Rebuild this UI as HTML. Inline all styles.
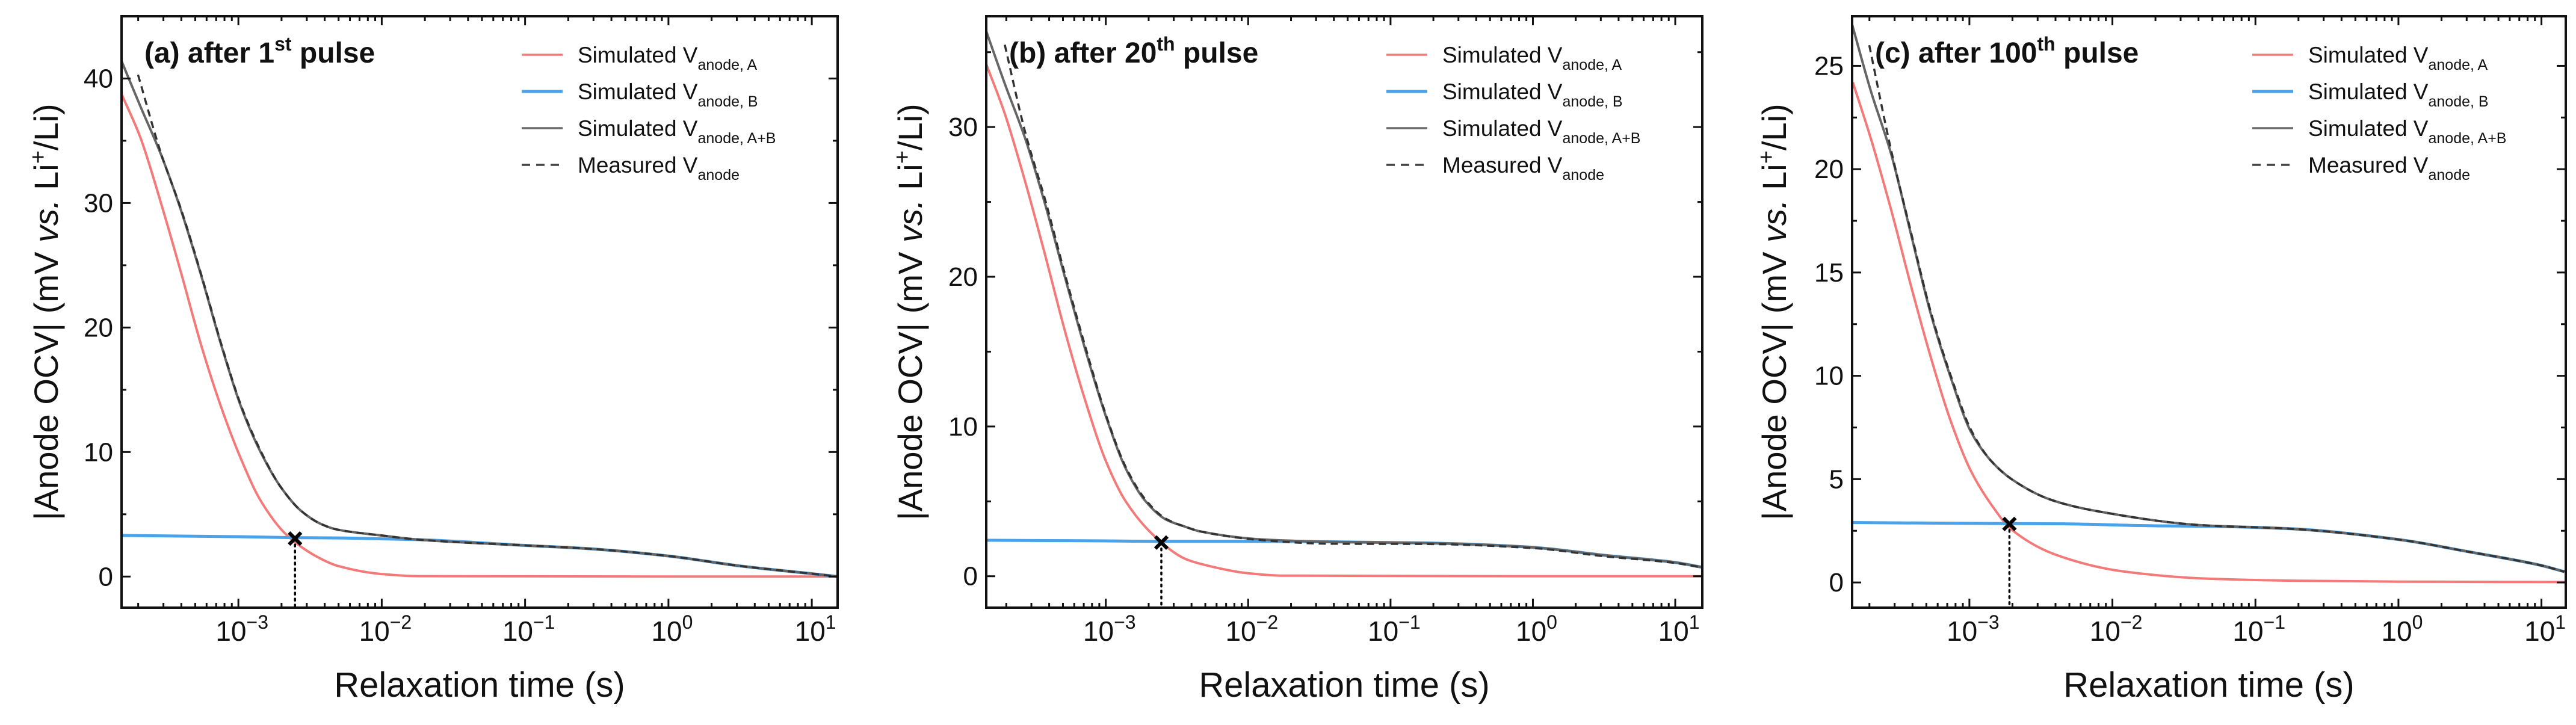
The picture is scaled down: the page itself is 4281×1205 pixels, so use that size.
<!DOCTYPE html>
<html><head><meta charset="utf-8">
<style>
html,body{margin:0;padding:0;background:#fff;}
svg{display:block;font-family:"Liberation Sans",Arial,sans-serif;}
</style></head>
<body>
<svg id="fig" width="4281" height="1205" viewBox="0 0 4281 1205" xmlns="http://www.w3.org/2000/svg"></svg>
<script>
// ---- Panel (a) data: log10(time s), value mV ----
const aRedX = [-3.815,-3.685,-3.54,-3.40,-3.26,-3.12,-2.98,-2.845,-2.66,-2.42,-2.31,-2.0,-1.74,0,1.18];
const aRedY = [38.75,35.3,30.0,24.4,18.6,13.6,9.4,6.1,3.3,1.4,0.87,0.2,0.03,0,0];
const aBlkX = [-3.815,-3.685,-3.54,-3.40,-3.26,-3.12,-2.98,-2.845,-2.705,-2.565,-2.42,-2.31,-2.0,-1.74,-1.0,-0.57,0,0.5,1.0,1.18];
const aBlkY = [41.4,37.8,33.9,29.4,24.2,18.6,13.6,10.0,7.2,5.3,4.2,3.77,3.3,2.96,2.5,2.25,1.65,0.85,0.23,0];
const aBluX = [-3.815,-3.0,-2.6,-2.31,-2.0,-1.74,-1.0,-0.57,0,0.5,1.0,1.18];
const aBluY = [3.3,3.2,3.12,3.1,3.03,2.96,2.5,2.25,1.65,0.85,0.23,0];
const aMeaX = [-3.70,-3.54,-3.40,-3.26,-3.12,-2.98,-2.845,-2.705,-2.565,-2.42,-2.31,-2.0,-1.74,-1.0,-0.57,0,0.5,1.0,1.18];
const aMeaY = [40.3,34.0,29.5,24.3,18.7,13.7,10.1,7.2,5.3,4.2,3.77,3.3,2.96,2.5,2.25,1.65,0.85,0.23,0];
const aMark = [-2.605,3.05];
// ---- Panel (b) ----
const bRedX = [-3.84,-3.71,-3.565,-3.425,-3.285,-3.14,-3.0,-2.86,-2.65,-2.44,-2.34,-2.0,-1.77,0,1.19];
const bRedY = [34.2,30.9,26.3,21.4,16.3,11.6,7.7,5.0,2.6,1.15,0.84,0.2,0.04,0,0];
const bBlkX = [-3.84,-3.71,-3.565,-3.425,-3.285,-3.14,-3.0,-2.86,-2.72,-2.58,-2.44,-2.34,-1.89,-1.43,-0.75,0,0.5,1.0,1.19];
const bBlkY = [36.4,32.9,29.2,24.8,19.9,15.0,10.7,7.2,5.0,3.8,3.3,3.0,2.45,2.3,2.22,1.93,1.4,0.92,0.6];
const bBluX = [-3.84,-3.0,-2.61,-2.34,-1.89,-1.43,-0.75,0,0.5,1.0,1.19];
const bBluY = [2.4,2.36,2.33,2.33,2.33,2.3,2.22,1.93,1.4,0.92,0.6];
const bMeaX = [-3.71,-3.565,-3.425,-3.285,-3.14,-3.0,-2.86,-2.72,-2.58,-2.44,-2.34,-1.89,-1.43,-0.75,0,0.5,1.0,1.19];
const bMeaY = [35.5,29.6,25.1,20.1,15.2,10.8,7.3,5.1,3.85,3.3,3.0,2.4,2.17,2.15,1.88,1.33,0.88,0.58];
const bMark = [-2.61,2.25];
// ---- Panel (c) ----
const cRedX = [-3.815,-3.69,-3.55,-3.41,-3.27,-3.125,-2.99,-2.85,-2.705,-2.38,-1.92,-1.35,-0.78,0,1.17];
const cRedY = [24.2,21.5,18.1,14.4,10.9,7.7,5.4,3.8,2.56,1.3,0.53,0.19,0.09,0.04,0.02];
const cBlkX = [-3.82,-3.69,-3.55,-3.41,-3.27,-3.125,-2.99,-2.85,-2.705,-2.43,-2.1,-1.35,-0.78,0,0.48,1.0,1.16];
const cBlkY = [27.0,23.8,20.8,16.9,13.0,9.8,7.3,5.9,5.0,4.0,3.44,2.76,2.61,2.08,1.5,0.82,0.52];
const cBluX = [-3.82,-2.72,-2.38,-1.69,-1.35,-0.78,0,0.48,1.0,1.16];
const cBluY = [2.9,2.85,2.84,2.74,2.72,2.61,2.08,1.5,0.82,0.52];
const cMeaX = [-3.70,-3.55,-3.41,-3.27,-3.125,-2.99,-2.85,-2.705,-2.43,-2.1,-1.35,-0.78,0,0.48,1.0,1.16];
const cMeaY = [26.0,21.0,17.0,13.1,9.9,7.4,5.9,5.0,4.0,3.44,2.76,2.61,2.08,1.5,0.82,0.52];
const cMark = [-2.72,2.83];
// ---- ticks ----
const aYTicks = [0,10,20,30,40];
const bYTicks = [0,10,20,30];
const cYTicks = [0,5,10,15,20,25];
const xDecades = [-3,-2,-1,0,1];

const NS="http://www.w3.org/2000/svg";
const svg=document.getElementById('fig');
function mk(tag,attrs,parent){const e=document.createElementNS(NS,tag);for(const k in attrs)e.setAttribute(k,attrs[k]);(parent||svg).appendChild(e);return e;}

function smoothPath(p){
  const n=p.length,d=[],m=[];
  for(let i=0;i<n-1;i++)d.push((p[i+1][1]-p[i][1])/(p[i+1][0]-p[i][0]));
  m[0]=d[0];m[n-1]=d[n-2];
  for(let i=1;i<n-1;i++){
    if(d[i-1]*d[i]<=0)m[i]=0;
    else{const h0=p[i][0]-p[i-1][0],h1=p[i+1][0]-p[i][0];
      const w1=2*h1+h0,w2=h1+2*h0;m[i]=(w1+w2)/(w1/d[i-1]+w2/d[i]);}
  }
  let s='M'+p[0][0].toFixed(1)+','+p[0][1].toFixed(1);
  for(let i=0;i<n-1;i++){
    const h=(p[i+1][0]-p[i][0])/3;
    s+=' C'+(p[i][0]+h).toFixed(1)+','+(p[i][1]+m[i]*h).toFixed(1)+' '+(p[i+1][0]-h).toFixed(1)+','+(p[i+1][1]-m[i+1]*h).toFixed(1)+' '+p[i+1][0].toFixed(1)+','+p[i+1][1].toFixed(1);
  }
  return s;
}

function panel(cfg){
  const g=mk('g',{});
  
  
  const L=cfg.left,R=cfg.right,T=27,B=1010;
  const xs=v=>L+(v-cfg.xmin)/(cfg.xmax-cfg.xmin)*(R-L);
  const ys=v=>B-(v-cfg.ymin)/(cfg.ymax-cfg.ymin)*(B-T);
  const clip='clip-'+cfg.name;
  const cp=mk('clipPath',{id:clip},g);mk('rect',{x:L,y:T,width:R-L,height:B-T},cp);
  const plot=mk('g',{'clip-path':'url(#'+clip+')'},g);
  function line(X,Y,attrs,name){
    const p=mk('path',Object.assign({d:smoothPath(X.map((x,i)=>[xs(x),ys(Y[i])])),fill:'none'},attrs),plot);
    
    
  }
  line(cfg.red[0],cfg.red[1],{stroke:'#f47a7a','stroke-width':4},'series-sim-a');
  line(cfg.blu[0],cfg.blu[1],{stroke:'#4aa3ea','stroke-width':5},'series-sim-b');
  line(cfg.blk[0],cfg.blk[1],{stroke:'#666','stroke-width':4},'series-sim-ab');
  line(cfg.mea[0],cfg.mea[1],{stroke:'#333','stroke-width':3.5,'stroke-dasharray':'12,8'},'series-measured');
  const mx=xs(cfg.mark[0]),my=ys(cfg.mark[1]);
  const dl=mk('line',{x1:mx,y1:my,x2:mx,y2:B,stroke:'#000','stroke-width':3.5,'stroke-dasharray':'3,7','stroke-linecap':'round'},g);
  
  
  const xm=mk('path',{d:`M${mx-10},${my-10}L${mx+10},${my+10}M${mx-10},${my+10}L${mx+10},${my-10}`,stroke:'#000','stroke-width':6},g);
  
  
  const fr=mk('rect',{x:L,y:T,width:R-L,height:B-T,fill:'none',stroke:'#111','stroke-width':4},g);
  
  
  cfg.yticks.forEach((v,i)=>{
    const y=ys(v);
    mk('line',{x1:L,y1:y,x2:L+15,y2:y,stroke:'#111','stroke-width':3},g);
    mk('line',{x1:R,y1:y,x2:R-15,y2:y,stroke:'#111','stroke-width':3},g);
    const h=v+cfg.ystep/2;
    if(h<cfg.ymax){const ym=ys(h);
      mk('line',{x1:L,y1:ym,x2:L+8,y2:ym,stroke:'#111','stroke-width':3},g);
      mk('line',{x1:R,y1:ym,x2:R-8,y2:ym,stroke:'#111','stroke-width':3},g);}
    const t=mk('text',{x:L-14,y:y+15,'text-anchor':'end','font-size':44,fill:'#111'},g);
    t.textContent=v;
    
    
  });
  for(let d=-4;d<=1;d++){
    for(let m=1;m<10;m++){
      const lv=d+Math.log10(m);
      if(lv<cfg.xmin||lv>cfg.xmax)continue;
      const x=xs(lv),len=m===1?15:8;
      mk('line',{x1:x,y1:B,x2:x,y2:B-len,stroke:'#111','stroke-width':3},g);
      mk('line',{x1:x,y1:T,x2:x,y2:T+len,stroke:'#111','stroke-width':3},g);
    }
  }
  xDecades.forEach(d=>{
    const x=xs(d);
    const t=mk('text',{x:x+6,y:1065,'text-anchor':'middle','font-size':46,fill:'#111'},g);
    
    
    const base=document.createElementNS(NS,'tspan');base.textContent='10';t.appendChild(base);
    const sup=document.createElementNS(NS,'tspan');sup.setAttribute('font-size','32');sup.setAttribute('dy','-20');sup.textContent=(d<0?'\u2212':'')+Math.abs(d);t.appendChild(sup);
  });
  const xt=mk('text',{x:(L+R)/2,y:1158,'text-anchor':'middle','font-size':58,fill:'#111'},g);
  xt.textContent='Relaxation time (s)';
  
  
  const yt=mk('text',{x:0,y:0,'text-anchor':'middle','font-size':56,fill:'#111',transform:`translate(${cfg.ylabX},${(T+B)/2}) rotate(-90)`},g);
  
  
  yt.innerHTML='|Anode OCV| (mV <tspan font-style="italic">vs.</tspan> Li<tspan font-size="38" dy="-20">+</tspan><tspan dy="20">/Li)</tspan>';
  const pt=mk('text',{x:L+38,y:104,'font-size':48,'font-weight':'bold',fill:'#111'},g);
  
  
  pt.innerHTML=cfg.title[0]+'<tspan font-size="32" dy="-20">'+cfg.title[1]+'</tspan><tspan dy="20"> pulse</tspan>';
  const lg=mk('g',{},g);
  
  
  const lx=L+665;
  const entries=[['#f47a7a',3.5,null,'anode, A'],['#4aa3ea',5,null,'anode, B'],['#6a6a6a',3.5,null,'anode, A+B'],['#444',3.5,'14,10','anode']];
  entries.forEach((e,i)=>{
    const y=91+i*61;
    const le=mk('g',{},lg);
    
    
    const a={x1:lx,y1:y,x2:lx+68,y2:y,stroke:e[0],'stroke-width':e[1]};
    if(e[2])a['stroke-dasharray']=e[2];
    mk('line',a,le);
    const t=mk('text',{x:lx+93,y:y+13,'font-size':37,fill:'#111'},le);
    t.innerHTML=(i===3?'Measured V':'Simulated V')+'<tspan font-size="25" dy="12">'+e[3]+'</tspan>';
  });
}

panel({name:'panel-a',left:202,right:1392,xmin:-3.815,xmax:1.18,ymin:-2.5,ymax:45,yticks:aYTicks,ystep:10,ylabX:96,
  red:[aRedX,aRedY],blk:[aBlkX,aBlkY],blu:[aBluX,aBluY],mea:[aMeaX,aMeaY],mark:aMark,title:['(a) after 1','st']});
panel({name:'panel-b',left:1639,right:2829,xmin:-3.84,xmax:1.19,ymin:-2.1,ymax:37.4,yticks:bYTicks,ystep:10,ylabX:1532,
  red:[bRedX,bRedY],blk:[bBlkX,bBlkY],blu:[bBluX,bBluY],mea:[bMeaX,bMeaY],mark:bMark,title:['(b) after 20','th']});
panel({name:'panel-c',left:3078,right:4264,xmin:-3.82,xmax:1.17,ymin:-1.22,ymax:27.4,yticks:cYTicks,ystep:5,ylabX:2968,
  red:[cRedX,cRedY],blk:[cBlkX,cBlkY],blu:[cBluX,cBluY],mea:[cMeaX,cMeaY],mark:cMark,title:['(c) after 100','th']});
</script>
</body></html>
